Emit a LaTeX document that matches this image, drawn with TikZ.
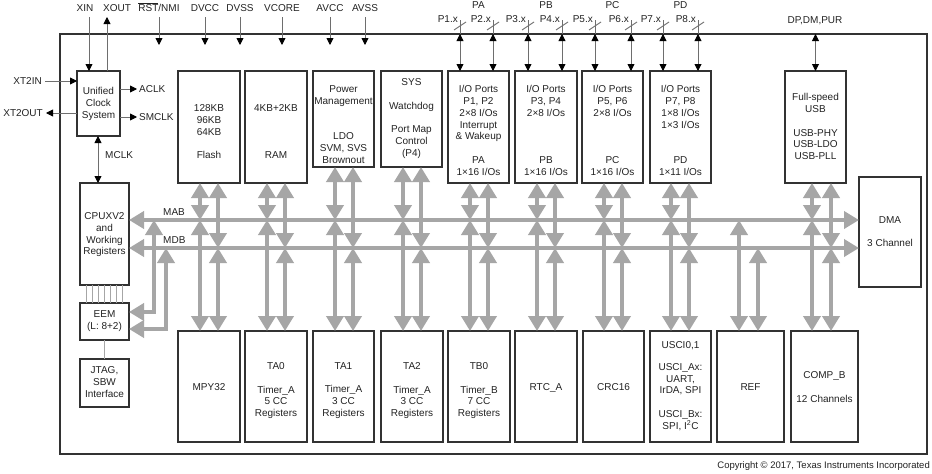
\documentclass[tikz,border=0pt]{standalone}
\usepackage{fontspec}
\setmainfont{Liberation Sans}
\usetikzlibrary{arrows.meta}
\definecolor{busgray}{RGB}{166,166,166}
\definecolor{sigcol}{RGB}{110,110,110}
\definecolor{boxcol}{RGB}{50,50,50}
\definecolor{txtcol}{RGB}{35,35,35}
\newcommand{\mkblock}[5]{\node[blk,minimum width={(#4-#2)*1pt},minimum height={(#5-#3)*1pt}] (#1) at ({(#2+#4)/2},{(#3+#5)/2}) {};}
\newcommand{\btxt}[3]{\pgfmathsetmacro{\mytexty}{#2-4.7}\node[btext] (#1-t) at (#1.north |- 0,\mytexty) {#3};}
\begin{document}
\begin{tikzpicture}[x=1pt,y=-1pt,
  font=\fontsize{10}{11.8}\selectfont, text=txtcol,
  blk/.style={draw=boxcol,line width=1.2pt,fill=white,inner sep=0pt,outer sep=0pt},
  btext/.style={anchor=north,align=center,inner sep=0pt,execute at begin node=\strut},
  lbl/.style={inner sep=0pt,text height=7.2pt,text depth=0pt},
  bus/.style={draw=busgray,line width=4.3pt,>={Triangle[length=15pt,width=17pt]}},
  sig/.style={draw=sigcol,line width=0.9pt,>={Triangle[length=7pt,width=7pt,color=black]}},
  faint/.style={draw=busgray,line width=0.6pt}]
\useasboundingbox (0,0) rectangle (932,474);
\fill[white] (0,0) rectangle (932,474);

% frame
\mkblock{chip}{60}{34}{927}{454}

% blocks
\mkblock{ucs}{77}{71}{120}{136}
\mkblock{cpu}{80}{183}{129}{285}
\mkblock{eem}{80}{303}{129}{340}
\mkblock{jtag}{80}{359}{129}{407}
\mkblock{flash}{178}{71}{240}{183}
\mkblock{ram}{245}{71}{307}{183}
\mkblock{pwr}{313}{71}{374}{167}
\mkblock{sys}{381}{71}{442}{167}
\mkblock{pa}{448}{71}{509}{183}
\mkblock{pb}{515}{71}{577}{183}
\mkblock{pc}{582}{71}{643}{183}
\mkblock{pd}{650}{71}{711}{183}
\mkblock{usb}{785}{71}{846}{183}
\mkblock{dma}{859}{177}{921}{287}
\mkblock{mpy}{178}{331}{240}{442}
\mkblock{ta0}{245}{331}{307}{442}
\mkblock{ta1}{313}{331}{374}{442}
\mkblock{ta2}{381}{331}{443}{442}
\mkblock{tb0}{448}{331}{510}{442}
\mkblock{rtc}{515}{331}{577}{442}
\mkblock{crc}{583}{331}{644}{442}
\mkblock{usci}{650}{331}{711}{442}
\mkblock{ref}{717}{331}{784}{442}
\mkblock{comp}{791}{331}{858}{442}

% buses
\coordinate (mab) at (0,220);
\coordinate (mdb) at (0,248);
\draw[bus,<->] (cpu.east |- mab) -- (dma.west |- mab);
\draw[bus,<->] (cpu.east |- mdb) -- (dma.west |- mdb);
\foreach \tp/\bt/\xa/\xb in {flash/mpy/200/218, ram/ta0/267/285, pwr/ta1/335/353, sys/ta2/403/421, pa/tb0/470/488, pb/rtc/537/555, pc/crc/604/622, pd/usci/671/689, usb/comp/812/831}{
  \coordinate (ca) at (\xa,0);
  \coordinate (cb) at (\xb,0);
  \draw[bus,<->] (\tp.south -| ca) -- (ca |- mab);
  \draw[bus,<->] (\bt.north -| ca) -- (ca |- mab);
  \draw[bus,<->] (\tp.south -| cb) -- (cb |- mdb);
  \draw[bus,<->] (\bt.north -| cb) -- (cb |- mdb);
}
\coordinate (ra) at (739,0);
\coordinate (rb) at (758,0);
\draw[bus,<->] (ref.north -| ra) -- (ra |- mab);
\draw[bus,<->] (ref.north -| rb) -- (rb |- mdb);
\coordinate (ea) at (154,312);
\coordinate (eb) at (166,329);
\draw[bus,<->] (eem.east |- ea) -| (ea |- mab);
\draw[bus,<->] (eem.east |- eb) -| (eb |- mdb);
\node[lbl,anchor=west] (l-mab) at (163,212) {MAB};
\node[lbl,anchor=west] (l-mdb) at (163,240) {MDB};

% CPU - EEM - JTAG
\foreach \dx in {-18,-12,-6,0,6,12,18}
  \draw[faint] ([xshift=\dx pt]cpu.south) -- ([xshift=\dx pt]eem.north);
\draw[faint] (eem) -- (jtag);

% clock system
\coordinate (xin) at (89,17);
\draw[sig,->] (xin) -- (xin |- ucs.north);
\coordinate (xout) at (107,17);
\draw[sig,->] (xout |- ucs.north) -- (xout);
\coordinate (xt2in) at (45,81);
\draw[sig,->] (xt2in) -- (ucs.west |- xt2in);
\coordinate (xt2out) at (46,113);
\draw[sig,->] (ucs.west |- xt2out) -- (xt2out);
\coordinate (aclk) at (137,89);
\draw[sig,->] (ucs.east |- aclk) -- (aclk);
\coordinate (smclk) at (137,117);
\draw[sig,->] (ucs.east |- smclk) -- (smclk);
\coordinate (mclk) at (98,0);
\draw[sig,<->] (ucs.south -| mclk) -- (cpu.north -| mclk);
\node[lbl] (l-xin) at (85,8) {XIN};
\node[lbl] (l-xout) at (117,8) {XOUT};
\node[lbl,anchor=east] (l-xt2in) at (42,81) {XT2IN};
\node[lbl,anchor=east] (l-xt2out) at (43,113) {XT2OUT};
\node[lbl,anchor=west] (l-aclk) at (139,89) {ACLK};
\node[lbl,anchor=west] (l-smclk) at (139,117) {SMCLK};
\node[lbl,anchor=west] (l-mclk) at (105,155) {MCLK};

% supply pins
\foreach \x/\n in {159/rst,205/dvcc,240/dvss,282/vcore,330/avcc,365/avss}{
  \coordinate (p-\n) at (\x,17);
  \draw[sig,->] (p-\n) -- ++(0,28);
}
\node[lbl] (l-rst) at (159,8) {$\overline{\mbox{RST}}$/NMI};
\node[lbl] (l-dvcc) at (205,8) {DVCC};
\node[lbl] (l-dvss) at (240,8) {DVSS};
\node[lbl] (l-vcore) at (282,8) {VCORE};
\node[lbl] (l-avcc) at (330,8) {AVCC};
\node[lbl] (l-avss) at (365,8) {AVSS};

% port pins
\foreach \x/\lab/\bn in {460/P1.x/pa, 493/P2.x/pa, 528/P3.x/pb, 562/P4.x/pb, 595/P5.x/pc, 631/P6.x/pc, 663/P7.x/pd, 698/P8.x/pd}{
  \coordinate (pin) at (\x,20);
  \draw[sig] (pin) -- (pin |- chip.north);
  \draw[sig,<->] (pin |- chip.north) -- (pin |- \bn.north);
  \draw[sig] ([shift={(-6,10)}]pin) -- ([shift={(6,2)}]pin);
  \node[lbl,anchor=east] (l-pin\x) at ([xshift=-2pt,yshift=1pt]pin) {\lab};
}
\node[lbl] (l-pa) at (pa.north |- 0,5) {PA};
\node[lbl] (l-pb) at (pb.north |- 0,5) {PB};
\node[lbl] (l-pc) at (pc.north |- 0,5) {PC};
\node[lbl] (l-pd) at (pd.north |- 0,5) {PD};
\draw[sig,<->] (usb.north |- chip.north) -- (usb.north);
\node[lbl] (l-usb) at (815,20) {DP,DM,PUR};

% block texts
\btxt{ucs}{92}{Unified\\Clock\\System}
\btxt{cpu}{217}{CPUXV2\\and\\Working\\Registers}
\btxt{eem}{315}{EEM\\(L: 8+2)}
\btxt{jtag}{371}{JTAG,\\SBW\\Interface}
\btxt{flash}{109}{128KB\\96KB\\64KB\\[11.8pt]Flash}
\btxt{ram}{109}{4KB+2KB\\[35.4pt]RAM}
\btxt{pwr}{90}{Power\\Management\\[23.6pt]LDO\\SVM, SVS\\Brownout}
\btxt{sys}{83}{SYS\\[11.8pt]Watchdog\\[11.8pt]Port Map\\Control\\(P4)}
\btxt{pa}{90}{I/O Ports\\P1, P2\\2×8 I/Os\\Interrupt\\\& Wakeup\\[11.8pt]PA\\1×16 I/Os}
\btxt{pb}{90}{I/O Ports\\P3, P4\\2×8 I/Os\\[35.4pt]PB\\1×16 I/Os}
\btxt{pc}{90}{I/O Ports\\P5, P6\\2×8 I/Os\\[35.4pt]PC\\1×16 I/Os}
\btxt{pd}{90}{I/O Ports\\P7, P8\\1×8 I/Os\\1×3 I/Os\\[23.6pt]PD\\1×11 I/Os}
\btxt{usb}{98}{Full-speed\\USB\\[11.8pt]USB-PHY\\USB-LDO\\USB-PLL}
\btxt{dma}{221}{DMA\\[11.8pt]3 Channel}
\btxt{mpy}{387}{MPY32}
\btxt{ta0}{367}{TA0\\[11.8pt]Timer\_A\\5 CC\\Registers}
\btxt{ta1}{367}{TA1\\[11.8pt]Timer\_A\\3 CC\\Registers}
\btxt{ta2}{367}{TA2\\[11.8pt]Timer\_A\\3 CC\\Registers}
\btxt{tb0}{367}{TB0\\[11.8pt]Timer\_B\\7 CC\\Registers}
\btxt{rtc}{387}{RTC\_A}
\btxt{crc}{387}{CRC16}
\btxt{usci}{346}{USCI0,1\\[10pt]USCI\_Ax:\\UART,\\IrDA, SPI\\[11.8pt]USCI\_Bx:\\SPI, I\textsuperscript{2}C}
\btxt{ref}{387}{REF}
\btxt{comp}{376}{COMP\_B\\[11.8pt]12 Channels}

\node[anchor=east,inner sep=0pt,font=\fontsize{9.5}{11}\selectfont] (copy) at (930,466) {Copyright © 2017, Texas Instruments Incorporated};
\end{tikzpicture}
\end{document}
